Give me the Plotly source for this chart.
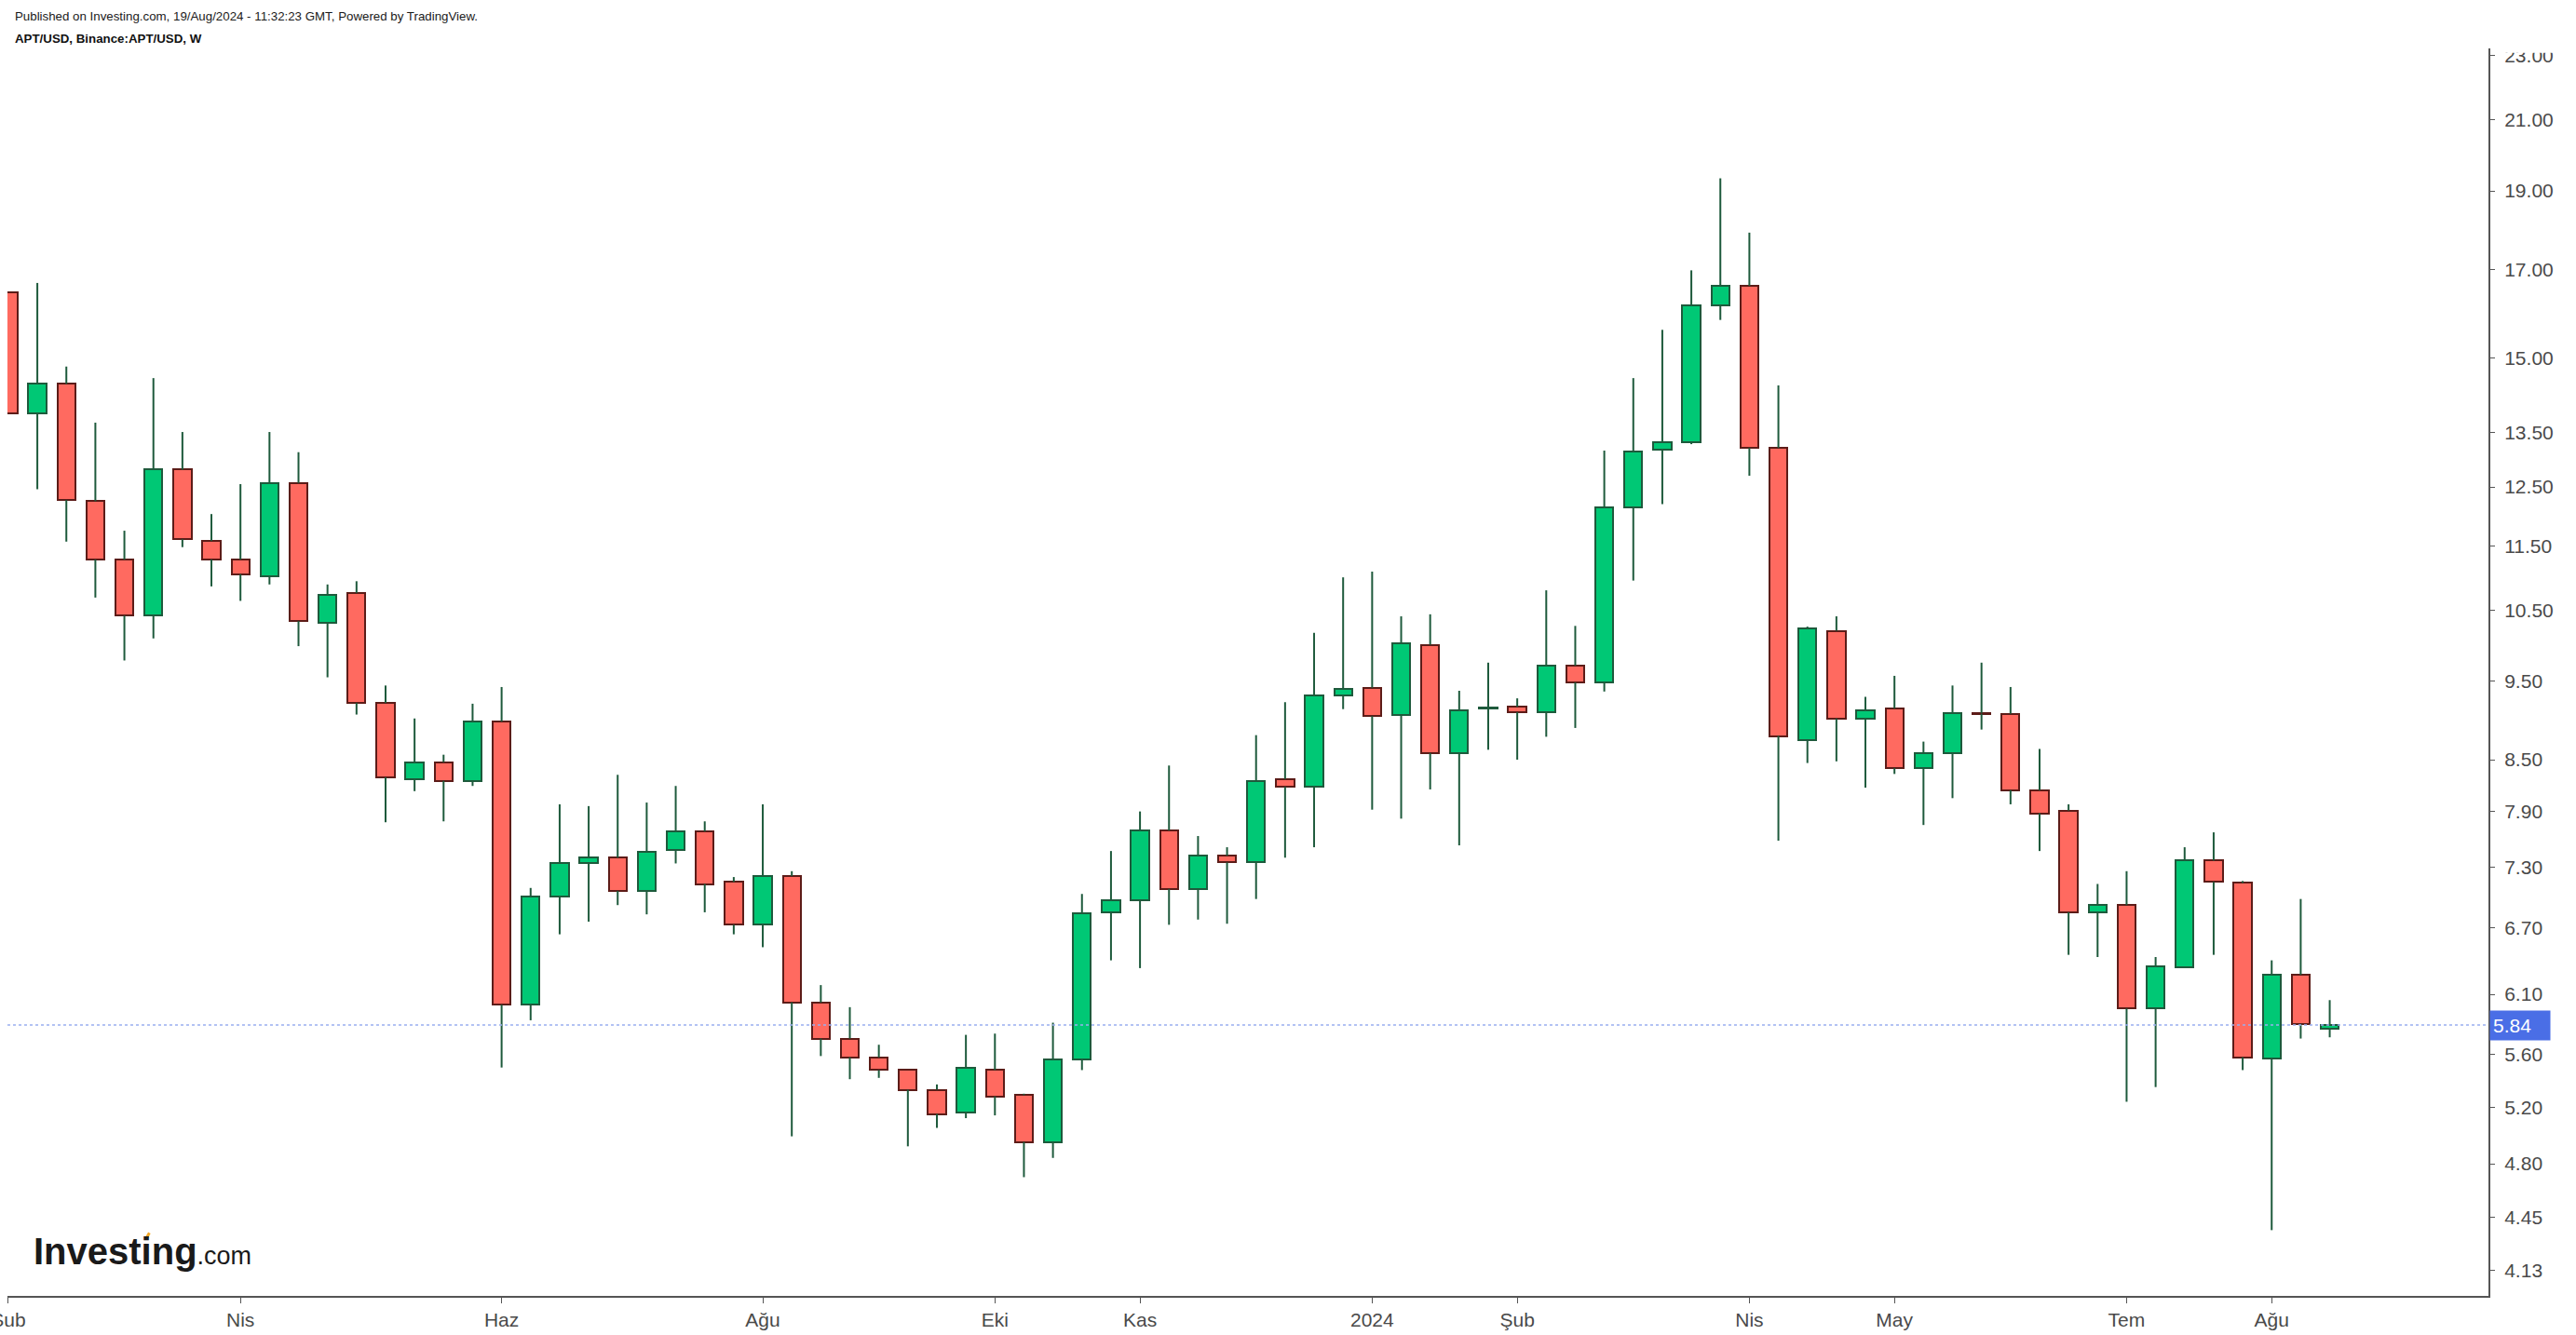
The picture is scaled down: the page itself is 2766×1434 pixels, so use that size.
import math
import pandas as pd
import plotly.graph_objects as go

# weekly APT/USD candles (Binance), week starting Monday
weeks = pd.date_range("2023-02-06", periods=81, freq="7D")
opens = [16.46, 13.88, 14.46, 12.25, 11.28, 10.42, 12.81, 11.58, 11.28, 11.02,
         12.57, 10.31, 10.76, 9.21, 8.27, 8.47, 8.25, 8.97, 6.01, 7.00,
         7.34, 7.40, 7.06, 7.48, 7.68, 7.15, 6.73, 7.21, 6.03, 5.73,
         5.58, 5.48, 5.33, 5.16, 5.48, 5.29, 4.95, 5.56, 6.85, 6.97,
         7.69, 7.08, 7.42, 7.35, 8.27, 8.18, 9.31, 9.41, 9.06, 10.00,
         8.58, 9.14, 9.16, 9.09, 9.71, 9.48, 12.15, 13.18, 13.32, 16.15,
         16.61, 13.21, 8.74, 10.20, 9.01, 9.14, 8.40, 8.58, 9.08, 9.07,
         8.14, 7.91, 6.85, 6.92, 5.98, 6.34, 7.37, 7.14, 5.57, 6.27,
         5.81]
highs = [16.46, 16.68, 14.82, 13.69, 11.75, 14.58, 13.51, 12.03, 12.55, 13.51,
         13.13, 10.89, 10.94, 9.44, 9.01, 8.56, 9.20, 9.42, 7.09, 7.98,
         7.96, 8.32, 8.00, 8.19, 7.79, 7.20, 7.98, 7.26, 6.18, 5.99,
         5.68, 5.48, 5.37, 5.76, 5.77, 5.30, 5.86, 7.03, 7.47, 7.90,
         8.43, 7.63, 7.51, 8.80, 9.22, 10.17, 11.00, 11.09, 10.41, 10.44,
         9.37, 9.75, 9.27, 10.80, 10.27, 13.16, 14.58, 15.61, 16.98, 19.34,
         17.91, 14.43, 10.26, 10.41, 9.29, 9.57, 8.72, 9.44, 9.75, 9.42,
         8.63, 7.98, 7.13, 7.26, 6.43, 7.51, 7.67, 7.16, 6.40, 6.98,
         6.05]
lows = [13.88, 12.46, 11.57, 10.69, 9.78, 10.09, 11.48, 10.86, 10.64, 10.89,
        9.98, 9.55, 9.06, 7.78, 8.13, 7.79, 8.19, 5.50, 5.88, 6.64,
        6.76, 6.92, 6.83, 7.34, 6.85, 6.64, 6.52, 4.99, 5.59, 5.41,
        5.42, 4.92, 5.05, 5.12, 5.14, 4.71, 4.84, 5.48, 6.40, 6.33,
        6.73, 6.78, 6.74, 6.98, 7.40, 7.51, 9.13, 7.92, 7.82, 8.15,
        7.53, 8.62, 8.50, 8.78, 8.89, 9.36, 10.95, 12.20, 13.28, 15.83,
        12.70, 7.58, 8.46, 8.48, 8.17, 8.33, 7.75, 8.05, 8.87, 7.98,
        7.47, 6.45, 6.43, 5.24, 5.35, 6.34, 6.45, 5.48, 4.37, 5.73,
        5.74]
closes = [13.88, 14.46, 12.27, 11.28, 10.42, 12.81, 11.61, 11.28, 11.05, 12.57,
          10.34, 10.73, 9.21, 8.29, 8.47, 8.25, 8.97, 6.01, 7.00, 7.34,
          7.40, 7.06, 7.46, 7.68, 7.13, 6.73, 7.21, 6.03, 5.73, 5.58,
          5.48, 5.33, 5.15, 5.50, 5.28, 4.95, 5.56, 6.84, 6.97, 7.69,
          7.08, 7.42, 7.35, 8.25, 8.18, 9.31, 9.39, 9.04, 10.02, 8.58,
          9.12, 9.15, 9.09, 9.71, 9.48, 12.15, 13.14, 13.32, 16.15, 16.61,
          13.21, 8.79, 10.24, 9.01, 9.11, 8.40, 8.58, 9.08, 9.07, 8.14,
          7.88, 6.85, 6.92, 5.98, 6.35, 7.37, 7.15, 5.58, 6.27, 5.85,
          5.84]
last_price = 5.84

month_ticks = ["2023-02-06", "2023-04-03", "2023-06-05", "2023-08-07", "2023-10-02", "2023-11-06",
               "2024-01-01", "2024-02-05", "2024-04-01", "2024-05-06", "2024-07-01", "2024-08-05"]
month_names = ["Şub", "Nis", "Haz", "Ağu", "Eki", "Kas", "2024", "Şub", "Nis", "May", "Tem", "Ağu"]
price_ticks = [4.13, 4.45, 4.80, 5.20, 5.60, 6.10, 6.70, 7.30, 7.90, 8.50, 9.50,
               10.50, 11.50, 12.50, 13.50, 15.00, 17.00, 19.00, 21.00, 23.00]

UP_FILL, UP_LINE = '#00c875', '#1e5a3c'
DN_FILL, DN_LINE = '#ff6a60', '#5c1c18'
WICK = '#1e5a3c'
AX = '#555555'
FONT = 'Liberation Sans, Arial, sans-serif'
WEEK_MS = 7 * 24 * 3600 * 1000

up = [c >= o for o, c in zip(opens, closes)]
body_lo = [min(o, c) for o, c in zip(opens, closes)]
body_hi = [max(o, c) for o, c in zip(opens, closes)]

# wicks split above/below the body so they never cross it
wx, wy = [], []
for d, lo, hi, blo, bhi in zip(weeks, lows, highs, body_lo, body_hi):
    if hi > bhi:
        wx += [d, d, None]; wy += [bhi, hi, None]
    if lo < blo:
        wx += [d, d, None]; wy += [lo, blo, None]

fig = go.Figure()
fig.add_scatter(x=wx, y=wy, mode='lines', line=dict(color=WICK, width=2),
                hoverinfo='skip', showlegend=False)
fig.add_bar(x=weeks, y=[max(h - l, 0.004) for l, h in zip(body_lo, body_hi)], base=body_lo,
            width=0.62 * WEEK_MS,
            marker=dict(color=[UP_FILL if u else DN_FILL for u in up],
                        line=dict(color=[UP_LINE if u else DN_LINE for u in up], width=2)),
            showlegend=False)

fig.add_hline(y=last_price, line=dict(color='#9aaef0', width=1.5, dash='dot'))
fig.add_annotation(xref='paper', x=1, yref='y', y=math.log10(last_price), xanchor='left',
                   text=f'{last_price:.2f}', showarrow=False, align='left',
                   font=dict(family=FONT, size=21, color='white'),
                   bgcolor='#4a6ee6', borderpad=3, width=58, height=25, xshift=1)

# header
fig.add_annotation(xref='paper', yref='paper', x=0.0023, y=1.0261, xanchor='left', yanchor='middle',
                   showarrow=False, font=dict(family=FONT, size=13.3, color='#1a1a1a'),
                   text='Published on Investing.com, 19/Aug/2024 - 11:32:23 GMT, Powered by TradingView.')
fig.add_annotation(xref='paper', yref='paper', x=0.0023, y=1.0082, xanchor='left', yanchor='middle',
                   showarrow=False, font=dict(family=FONT, size=13.3, color='#111111'),
                   text='<b>APT/USD, Binance:APT/USD, W</b>')
# logo
fig.add_annotation(xref='paper', yref='paper', x=0.0098, y=0.0355, xanchor='left', yanchor='middle',
                   showarrow=False, font=dict(family=FONT, size=40, color='#1a1a1a'),
                   text="<b>Investing</b><span style='font-size:27px'>.com</span>")
fig.add_shape(type='line', xref='paper', yref='paper', x0=0.0558, x1=0.0572, y0=0.0455, y1=0.0505,
              line=dict(color='#f5a623', width=3))
# price pane clips the top label
fig.add_shape(type='rect', xref='paper', yref='paper', x0=1.003, x1=1.035, y0=0.9965, y1=1.03,
              fillcolor='white', line_width=0, layer='above')

fig.update_xaxes(type='date', range=['2023-02-05 19:00', '2024-09-26 07:00'],
                 tickvals=month_ticks, ticktext=month_names, ticklabeloverflow='allow',
                 automargin=False,
                 showgrid=False, zeroline=False, showline=True, linecolor=AX, linewidth=2,
                 ticks='outside', ticklen=6, tickwidth=1, tickcolor=AX,
                 tickfont=dict(family=FONT, size=21, color='#4a4a4a'))
fig.update_yaxes(type='log', side='right', range=[math.log10(3.982), math.log10(23.24)],
                 tickvals=price_ticks, ticktext=[f'{v:.2f}' for v in price_ticks],
                 ticklabeloverflow='allow', automargin=False,
                 showgrid=False, zeroline=False, showline=True, linecolor=AX, linewidth=2,
                 ticks='outside', ticklen=5, tickwidth=1, tickcolor=AX, ticklabelstandoff=6,
                 tickfont=dict(family=FONT, size=21, color='#4a4a4a'))
fig.update_layout(width=2766, height=1434, margin=dict(l=8, r=94, t=52, b=42),
                  paper_bgcolor='white', plot_bgcolor='white', bargap=0,
                  font=dict(family=FONT), showlegend=False)

fig.write_html("out.html", config={'displayModeBar': False},
               post_script="document.body.style.margin='0';document.body.style.overflow='hidden';")
